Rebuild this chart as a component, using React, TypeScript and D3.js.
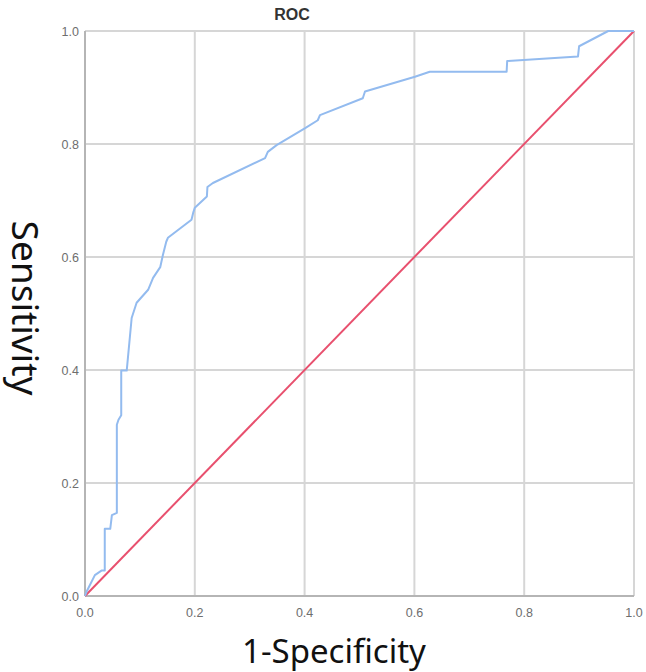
import React from "react";
import * as d3 from "d3";

// ROC curve points (1-specificity, sensitivity)
const fpr = [0, 0.003, 0.018, 0.03, 0.036, 0.036, 0.046, 0.049, 0.058, 0.058, 0.061, 0.066, 0.066, 0.076, 0.085, 0.094, 0.115, 0.124, 0.137, 0.142, 0.148, 0.151, 0.194, 0.197, 0.2, 0.222, 0.223, 0.233, 0.328, 0.333, 0.349, 0.401, 0.424, 0.428, 0.506, 0.51, 0.601, 0.628, 0.768, 0.769, 0.898, 0.9, 0.953, 1];
const tpr = [0, 0.008, 0.037, 0.045, 0.045, 0.119, 0.119, 0.143, 0.147, 0.303, 0.312, 0.32, 0.399, 0.399, 0.492, 0.519, 0.542, 0.563, 0.582, 0.604, 0.627, 0.634, 0.666, 0.678, 0.687, 0.707, 0.724, 0.731, 0.775, 0.786, 0.798, 0.828, 0.842, 0.851, 0.881, 0.893, 0.919, 0.928, 0.928, 0.947, 0.955, 0.973, 1, 1];
const refLine = [0, 1];
const ticks = [0, 0.2, 0.4, 0.6, 0.8, 1.0];

const width = 646;
const height = 672;
const margin = { left: 85, right: 12, top: 31, bottom: 76 };

export default function App() {
  const x = d3.scaleLinear().domain([0, 1]).range([margin.left, width - margin.right]);
  const y = d3.scaleLinear().domain([0, 1]).range([height - margin.bottom, margin.top]);

  const line = d3.line<[number, number]>().x(d => x(d[0])).y(d => y(d[1]));
  const rocPts: [number, number][] = fpr.map((f, i) => [f, tpr[i]]);
  const diag: [number, number][] = refLine.map(v => [v, v]);

  return (
    <svg width={width} height={height} style={{ position: "absolute", left: 0, top: 0, background: "#fff" }}>
      {/* grid */}
      {ticks.slice(1).map(t => (
        <g key={"g" + t}>
          <line x1={x(t)} x2={x(t)} y1={y(0)} y2={y(1)} stroke="#d6d6d6" strokeWidth={2} />
          <line x1={x(0)} x2={x(1)} y1={y(t)} y2={y(t)} stroke="#d6d6d6" strokeWidth={2} />
        </g>
      ))}
      {/* axes */}
      <line x1={x(0)} x2={x(0)} y1={y(0)} y2={y(1)} stroke="#b5b5b5" strokeWidth={2} />
      <line x1={x(0)} x2={x(1)} y1={y(0)} y2={y(0)} stroke="#b5b5b5" strokeWidth={2} />

      <path d={line(diag) || ""} fill="none" stroke="#e8506e" strokeWidth={2} />
      <path d={line(rocPts) || ""} fill="none" stroke="#93bbef" strokeWidth={2} strokeLinejoin="round" />

      {/* tick labels */}
      {ticks.map(t => (
        <text key={"yl" + t} x={x(0) - 6} y={y(t) + 4.5} textAnchor="end" fontSize={12.5} fontFamily="Arial, Liberation Sans" fill="#6e6e6e">
          {d3.format(".1f")(t)}
        </text>
      ))}
      {ticks.map(t => (
        <text key={"xl" + t} x={x(t)} y={y(0) + 21} textAnchor="middle" fontSize={12.5} fontFamily="Arial, Liberation Sans" fill="#6e6e6e">
          {d3.format(".1f")(t)}
        </text>
      ))}

      <text x={292} y={20} textAnchor="middle" fontSize={16} fontWeight="bold" fontFamily="Arial, Liberation Sans" fill="#333">
        ROC
      </text>
      <text x={334} y={663} textAnchor="middle" fontSize={33} fontFamily="Noto Sans" fill="#111">
        1-Specificity
      </text>
      <text transform="translate(12,308) rotate(90)" textAnchor="middle" fontSize={37} fontFamily="Noto Sans" fill="#111">
        Sensitivity
      </text>
    </svg>
  );
}
